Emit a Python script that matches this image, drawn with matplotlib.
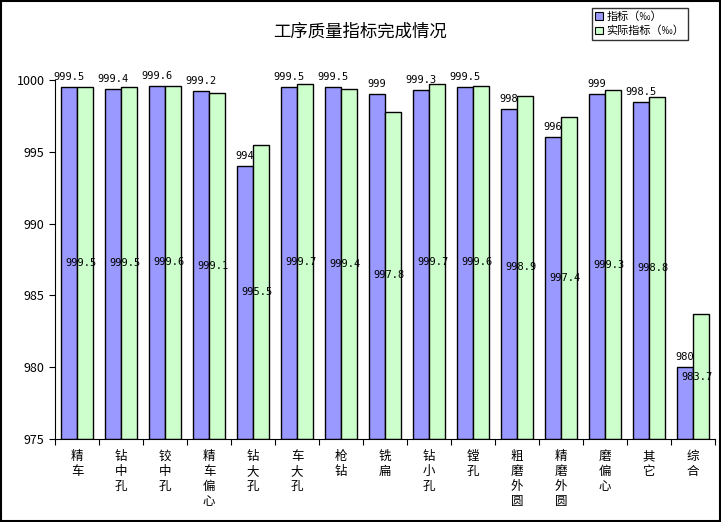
import matplotlib
matplotlib.use("Agg")
import numpy as np
import matplotlib.pyplot as plt
from matplotlib.patches import Rectangle

plt.rcParams['font.family'] = ['Noto Sans CJK SC', 'DejaVu Sans']

categories = ['精车', '钻中孔', '铰中孔', '精车偏心', '钻大孔', '车大孔', '枪钻', '铣扁',
              '钻小孔', '镗孔', '粗磨外圆', '精磨外圆', '磨偏心', '其它', '综合']
target = [999.5, 999.4, 999.6, 999.2, 994, 999.5, 999.5, 999, 999.3, 999.5,
          998, 996, 999, 998.5, 980]
actual = [999.5, 999.5, 999.6, 999.1, 995.5, 999.7, 999.4, 997.8, 999.7, 999.6,
          998.9, 997.4, 999.3, 998.8, 983.7]
yticks = [975, 980, 985, 990, 995, 1000]

blue = '#9999FF'
green = '#CCFFCC'
base = 975

fig = plt.figure(figsize=(7.21, 5.22), dpi=100)
ax = fig.add_axes([55/721, 83/522, 660/721, 359/522])

x = np.arange(len(categories))
w = 0.37
ax.bar(x - w/2, np.array(target) - base, w, bottom=base, color=blue,
       edgecolor='black', linewidth=1.0)
ax.bar(x + w/2, np.array(actual) - base, w, bottom=base, color=green,
       edgecolor='black', linewidth=1.0)

def fmt(v):
    return ('%g' % v)

# target labels sit above the blue bars, actual labels in the middle of the green ones
for xi, v in zip(x, target):
    ax.text(xi - w/2, v + 0.35, fmt(v), ha='center', va='bottom', fontsize=7.5,
            family='DejaVu Sans Mono')
for xi, v in zip(x, actual):
    ax.text(xi + w/2 - 0.1, (base + v) / 2, fmt(v), ha='center', va='center',
            fontsize=7.5, family='DejaVu Sans Mono')

ax.set_xlim(-0.5, len(categories) - 0.5)
ax.set_ylim(975, 1000)
ax.set_yticks(yticks)
ax.set_yticklabels([str(t) for t in yticks], fontsize=9)
ax.set_xticks(np.arange(len(categories) + 1) - 0.5, minor=False)
ax.set_xticklabels([''] * (len(categories) + 1))
ax.set_xticks(x, minor=True)
ax.set_xticklabels(['\n'.join(c) for c in categories], minor=True, fontsize=9,
                   linespacing=1.2, va='top')
ax.tick_params(axis='x', which='minor', length=0, pad=8)
ax.tick_params(axis='x', which='major', direction='out', length=4)
ax.tick_params(axis='y', direction='out', length=4)
for s in ['top', 'right']:
    ax.spines[s].set_visible(False)

fig.text(360/721, 1 - 32/522, '工序质量指标完成情况', ha='center', va='center', fontsize=12.5)

handles = [Rectangle((0, 0), 1, 1, facecolor=blue, edgecolor='black', linewidth=0.8),
           Rectangle((0, 0), 1, 1, facecolor=green, edgecolor='black', linewidth=0.8)]
leg = fig.legend(handles, ['指标（‰）', '实际指标（‰）'], loc='upper left',
                 bbox_to_anchor=(592/721, 1 - 8/522), fontsize=8, frameon=True,
                 fancybox=False, edgecolor='black', handlelength=0.7, handleheight=0.7,
                 handletextpad=0.3, borderpad=0.3, labelspacing=0.35, borderaxespad=0)
leg.get_frame().set_linewidth(1.0)

fig.patches.append(Rectangle((0.001, 0.001), 0.997, 0.997, transform=fig.transFigure,
                             fill=False, edgecolor='black', linewidth=1.5))

fig.savefig('out.png', dpi=100)
